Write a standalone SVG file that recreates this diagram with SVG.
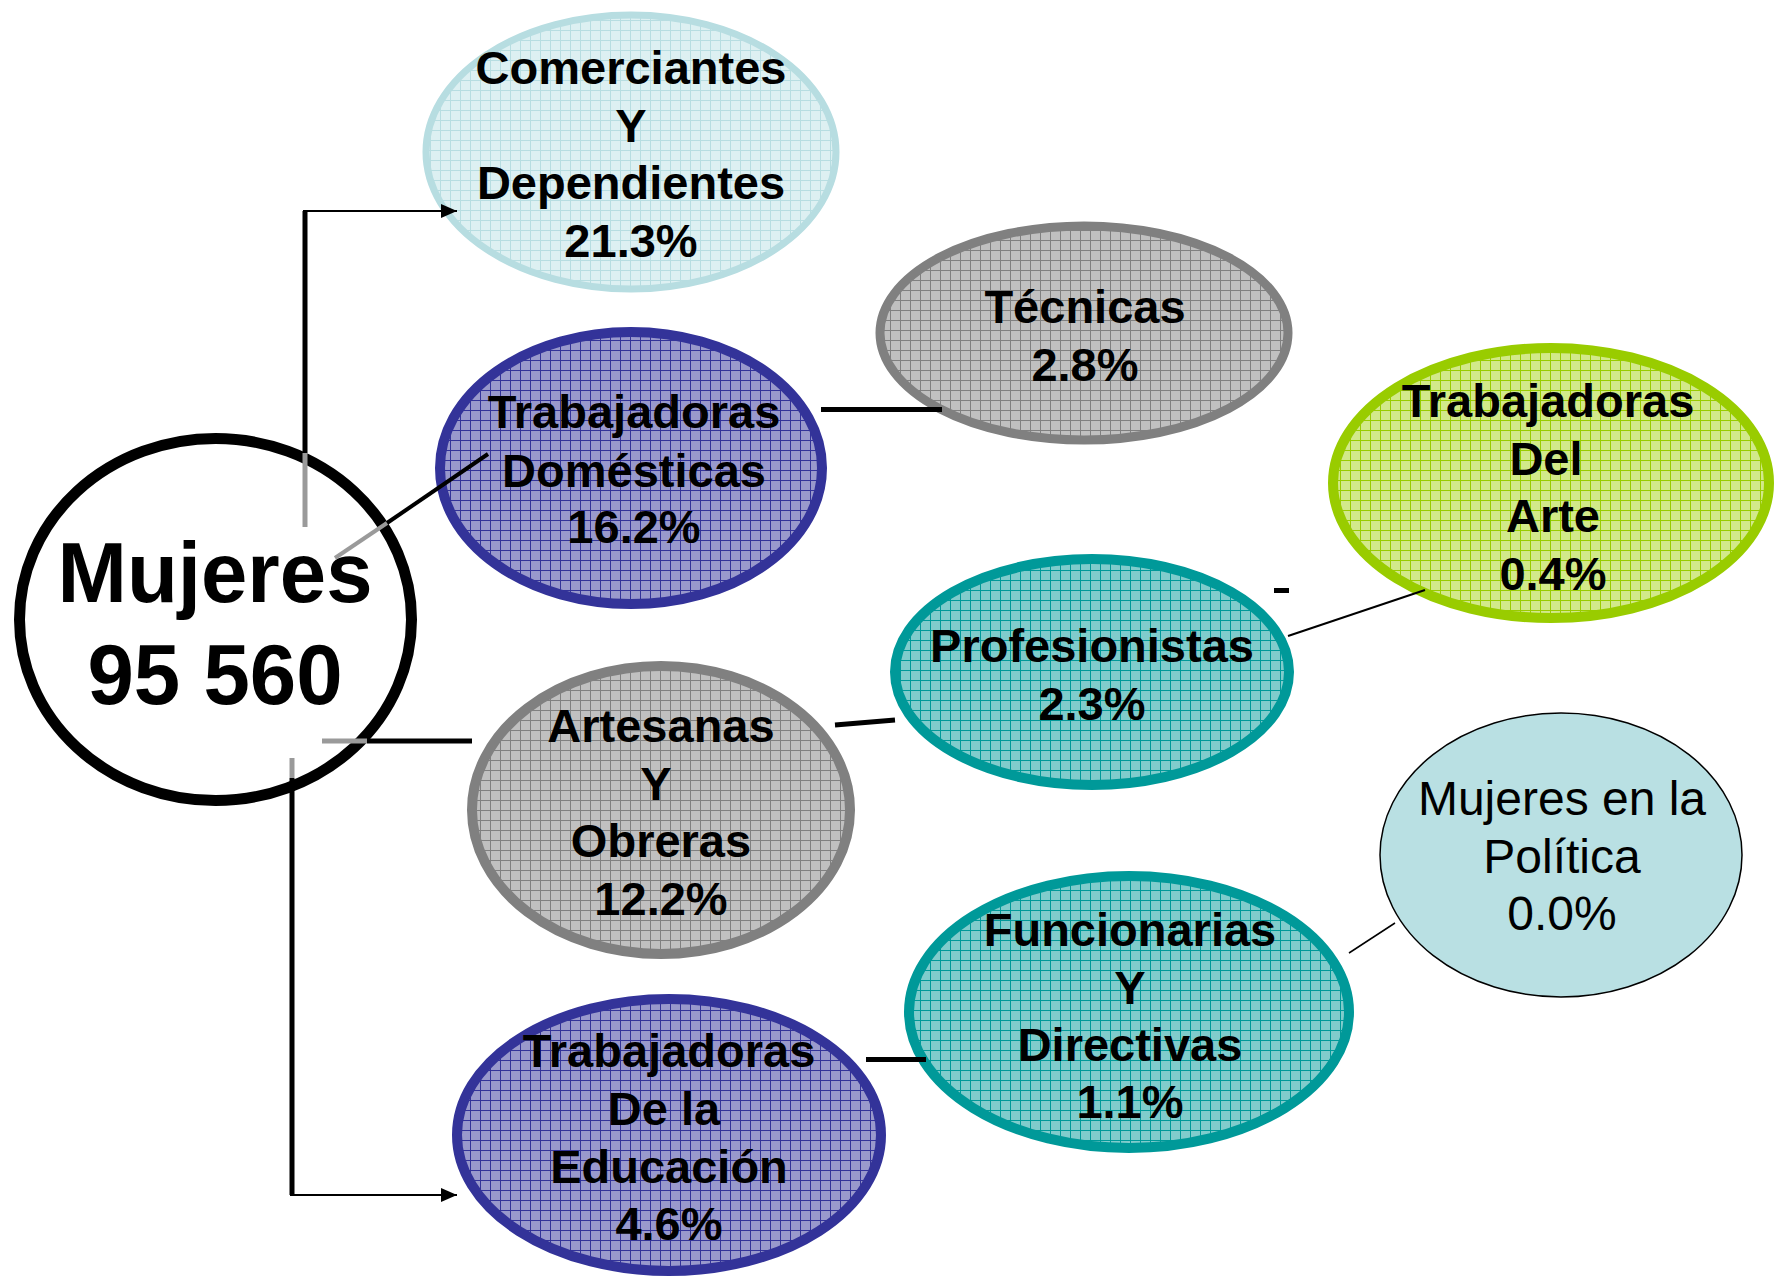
<svg xmlns="http://www.w3.org/2000/svg" width="1776" height="1279" viewBox="0 0 1776 1279">
<style>
.b{font-family:"Liberation Sans",Arial,sans-serif;font-weight:bold;font-size:47px;fill:#000;text-anchor:middle}
.r{font-family:"Liberation Sans",Arial,sans-serif;font-size:48px;fill:#000;text-anchor:middle}
.big{font-family:"Liberation Sans",Arial,sans-serif;font-weight:bold;font-size:86px;fill:#000;text-anchor:middle}
.c{stroke:#000;fill:none}
.g{stroke:#9a9a9a;fill:none}
</style>
<defs>
<pattern id="pLb" width="10" height="10" patternUnits="userSpaceOnUse"><rect width="10" height="10" fill="#DDF0F2"/><path d="M0.5,0V10M0,0.5H10" stroke="#B7DDE1" stroke-width="1"/></pattern>
<pattern id="pGr" width="10" height="10" patternUnits="userSpaceOnUse"><rect width="10" height="10" fill="#C0C0C0"/><path d="M0.5,0V10M0,0.5H10" stroke="#808080" stroke-width="1"/></pattern>
<pattern id="pBl" width="10" height="10" patternUnits="userSpaceOnUse"><rect width="10" height="10" fill="#9999CC"/><path d="M0.5,0V10M0,0.5H10" stroke="#333399" stroke-width="1"/></pattern>
<pattern id="pTe" width="10" height="10" patternUnits="userSpaceOnUse"><rect width="10" height="10" fill="#80CCCC"/><path d="M0.5,0V10M0,0.5H10" stroke="#009999" stroke-width="1"/></pattern>
<pattern id="pGn" width="10" height="10" patternUnits="userSpaceOnUse"><rect width="10" height="10" fill="#D2E98A"/><path d="M0.5,0V10M0,0.5H10" stroke="#99CC00" stroke-width="1"/></pattern>
<marker id="arr" markerUnits="userSpaceOnUse" markerWidth="16" markerHeight="14" viewBox="0 0 16 14" refX="16" refY="7" orient="auto"><path d="M0,0L16,7L0,14z" fill="#000"/></marker>
</defs>

<g id="n-comerciantes">
<ellipse cx="631" cy="152" rx="205" ry="137" fill="url(#pLb)" stroke="#B7DDE1" stroke-width="7"/>
<text class="b" x="631" y="84">Comerciantes</text>
<text class="b" x="631" y="142">Y</text>
<text class="b" x="631" y="199">Dependientes</text>
<text class="b" x="631" y="257">21.3%</text>
</g>
<g id="n-tecnicas">
<ellipse cx="1084" cy="333" rx="204" ry="107" fill="url(#pGr)" stroke="#808080" stroke-width="9"/>
<text class="b" x="1085" y="323">Técnicas</text>
<text class="b" x="1085" y="381">2.8%</text>
</g>
<g id="n-domesticas">
<ellipse cx="631" cy="468" rx="191" ry="136" fill="url(#pBl)" stroke="#333399" stroke-width="10"/>
<text class="b" x="634" y="428">Trabajadoras</text>
<text class="b" x="634" y="487">Domésticas</text>
<text class="b" x="634" y="543">16.2%</text>
</g>
<g id="n-arte">
<ellipse cx="1551" cy="483" rx="218" ry="135" fill="url(#pGn)" stroke="#99CC00" stroke-width="10"/>
<text class="b" x="1548" y="417">Trabajadoras</text>
<text class="b" x="1546" y="475">Del</text>
<text class="b" x="1553" y="532">Arte</text>
<text class="b" x="1553" y="590">0.4%</text>
</g>
<g id="n-profesionistas">
<ellipse cx="1092" cy="672" rx="197" ry="113" fill="url(#pTe)" stroke="#009999" stroke-width="10"/>
<text class="b" x="1092" y="662">Profesionistas</text>
<text class="b" x="1092" y="720">2.3%</text>
</g>
<g id="n-artesanas">
<ellipse cx="661" cy="810" rx="189" ry="144" fill="url(#pGr)" stroke="#808080" stroke-width="10"/>
<text class="b" x="661" y="742">Artesanas</text>
<text class="b" x="656" y="800">Y</text>
<text class="b" x="661" y="857">Obreras</text>
<text class="b" x="661" y="915">12.2%</text>
</g>
<g id="n-politica">
<ellipse cx="1561" cy="855" rx="181" ry="142" fill="#B9E0E3" stroke="#000" stroke-width="1.5"/>
<text class="r" x="1562" y="815">Mujeres en la</text>
<text class="r" x="1562" y="873">Política</text>
<text class="r" x="1562" y="930">0.0%</text>
</g>
<g id="n-funcionarias">
<ellipse cx="1129" cy="1012" rx="220" ry="136" fill="url(#pTe)" stroke="#009999" stroke-width="10"/>
<text class="b" x="1130" y="946">Funcionarias</text>
<text class="b" x="1130" y="1004">Y</text>
<text class="b" x="1130" y="1061">Directivas</text>
<text class="b" x="1130" y="1118">1.1%</text>
</g>
<g id="n-educacion">
<ellipse cx="669" cy="1135" rx="212" ry="136" fill="url(#pBl)" stroke="#333399" stroke-width="10"/>
<text class="b" x="669" y="1067">Trabajadoras</text>
<text class="b" x="664" y="1125">De la</text>
<text class="b" x="669" y="1183">Educación</text>
<text class="b" x="669" y="1240">4.6%</text>
</g>
<g id="n-mujeres">
<ellipse cx="215.5" cy="619.5" rx="196" ry="181" fill="#fff" stroke="#000" stroke-width="11"/>
<text class="big" x="215" y="602" textLength="315" lengthAdjust="spacingAndGlyphs">Mujeres</text>
<text class="big" x="215" y="704" textLength="255" lengthAdjust="spacingAndGlyphs">95 560</text>
</g>

<g id="connectors">
<path class="c" d="M305,453V211" stroke-width="5"/>
<path class="c" d="M303,211H457" stroke-width="2" marker-end="url(#arr)"/>
<path class="g" d="M305,453V527" stroke-width="5"/>
<path class="c" d="M488,454L387,523" stroke-width="4"/>
<path class="g" d="M387,523L335,558" stroke-width="4"/>
<path class="c" d="M367,741H472" stroke-width="5"/>
<path class="g" d="M322,741H367" stroke-width="5"/>
<path class="g" d="M292,758V778" stroke-width="5"/>
<path class="c" d="M292,778V1195" stroke-width="5"/>
<path class="c" d="M290,1195H457" stroke-width="2" marker-end="url(#arr)"/>
<path class="c" d="M821,409.5H942" stroke-width="5"/>
<path class="c" d="M835,725L895,720" stroke-width="5"/>
<path class="c" d="M1288,636L1425,590" stroke-width="2"/>
<path class="c" d="M1349,953L1395,923" stroke-width="1.5"/>
<path class="c" d="M866,1059.5H926" stroke-width="5"/>
<rect x="1274" y="588" width="15" height="5" fill="#000"/>
</g>
</svg>
